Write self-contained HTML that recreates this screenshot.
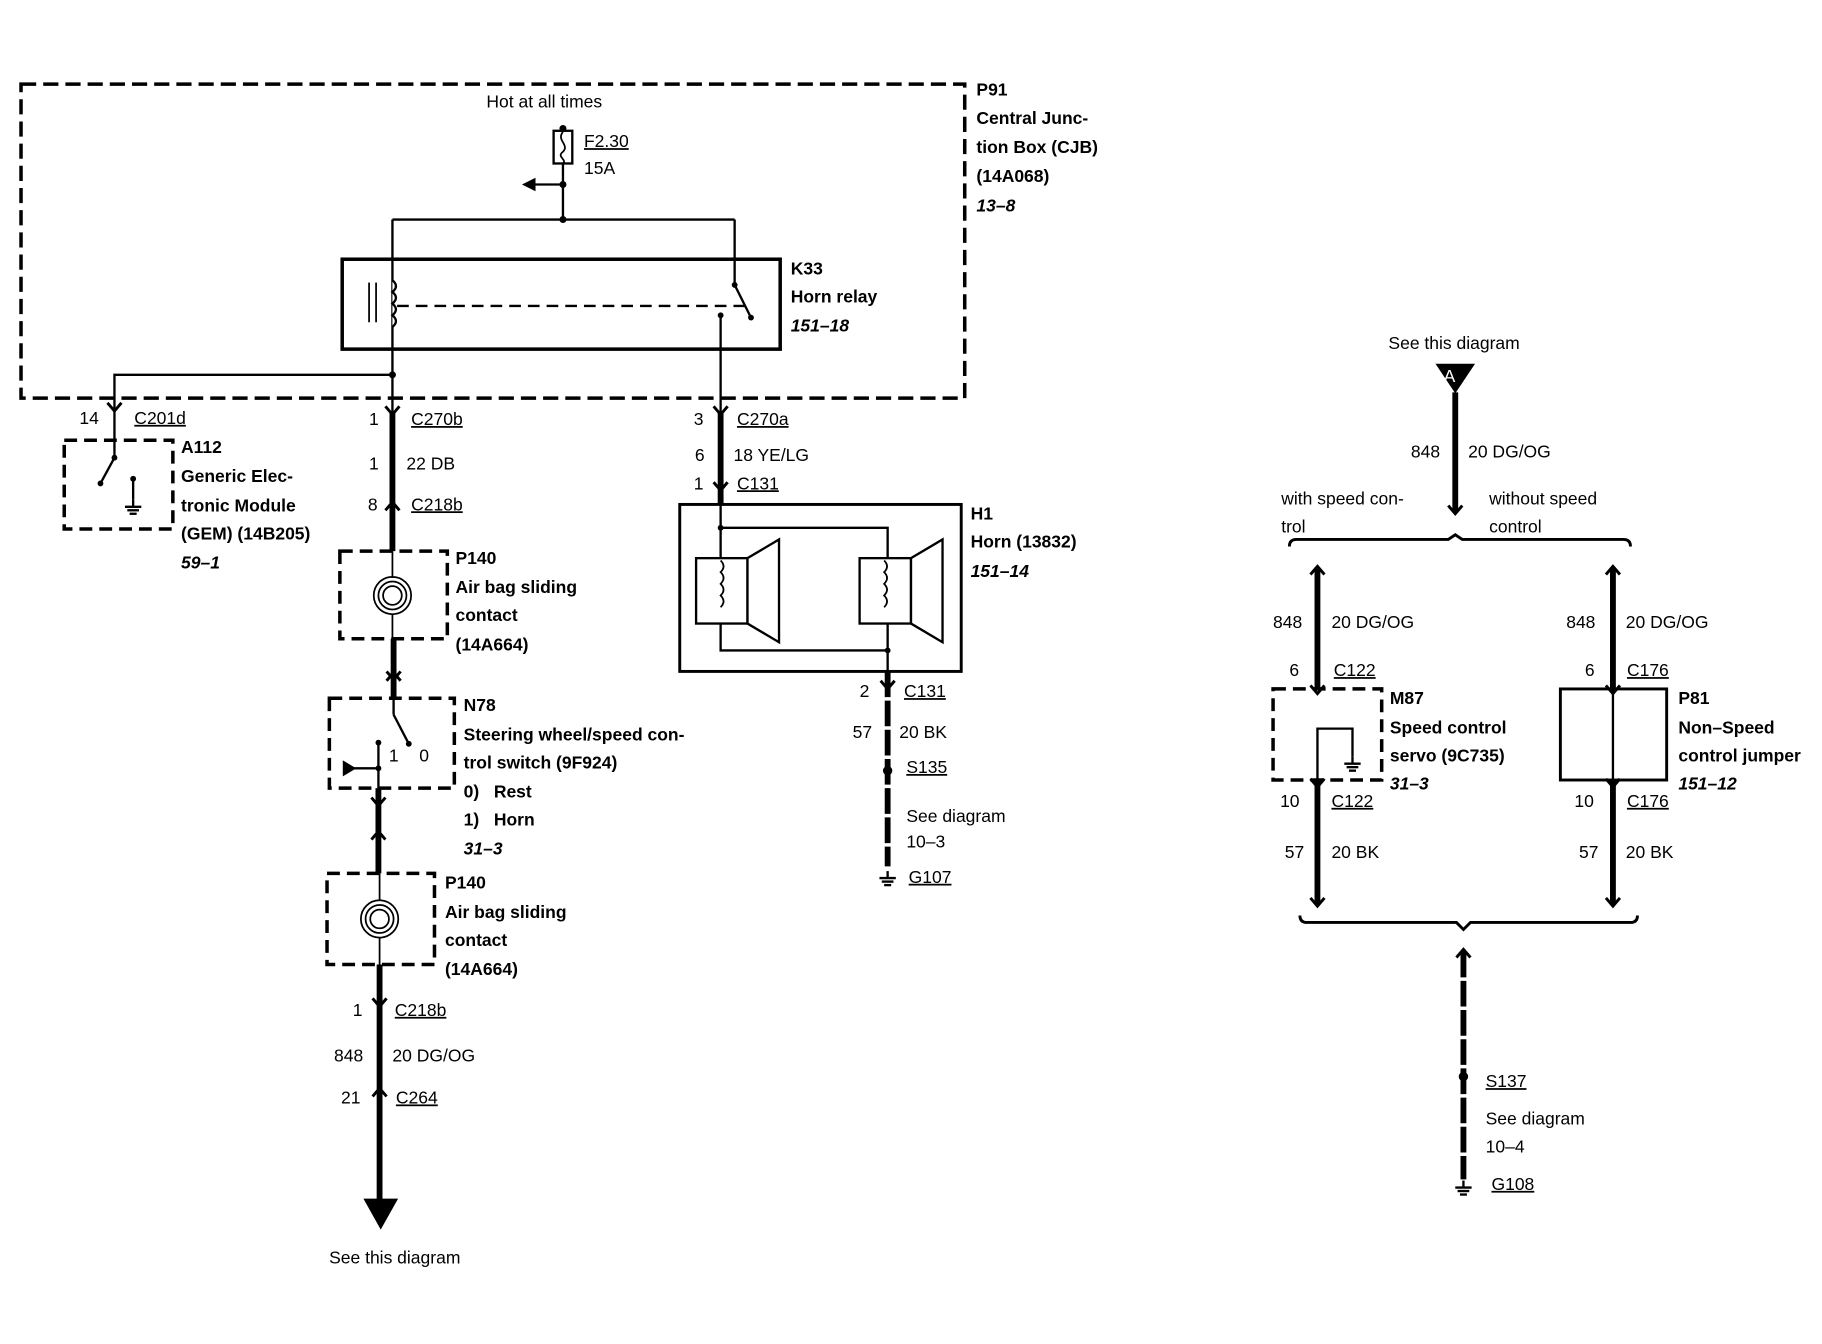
<!DOCTYPE html>
<html><head><meta charset="utf-8"><style>
html,body{margin:0;padding:0;background:#fff;}
svg{display:block;}
text{font-family:"Liberation Sans",sans-serif;font-size:15px;fill:#000;}
.b{font-weight:bold;}
.i{font-style:italic;font-weight:bold;}
.u{text-decoration:underline;}
</style></head><body>
<svg width="1822" height="1344" viewBox="0 0 1560 1151" preserveAspectRatio="none" xmlns="http://www.w3.org/2000/svg">
<defs>
<g id="cd"><path d="M-6,-7 L0,0 L6,-7" fill="none" stroke="#000" stroke-width="2.5"/></g>
<g id="cu"><path d="M-6,7 L0,0 L6,7" fill="none" stroke="#000" stroke-width="2.5"/></g>
<g id="gnd"><line x1="0" y1="-6" x2="0" y2="0" stroke="#000" stroke-width="2"/><line x1="-7" y1="0" x2="7" y2="0" stroke="#000" stroke-width="2"/><line x1="-5" y1="3" x2="5" y2="3" stroke="#000" stroke-width="2"/><line x1="-3" y1="6" x2="3" y2="6" stroke="#000" stroke-width="2"/></g>
</defs>
<g fill="none" stroke="#000">
<!-- CJB box -->
<rect x="18" y="72" width="808" height="269" stroke-width="3" stroke-dasharray="13,6"/>
<!-- fuse -->
<line x1="482" y1="108" x2="482" y2="188" stroke-width="2"/>
<rect x="474" y="112" width="16" height="28" stroke-width="2" fill="#fff"/>
<path d="M482,113 C476,120 488,124 482,130 C476,134 486,137 482,140" stroke-width="1.5"/>
<line x1="482" y1="158" x2="456" y2="158" stroke-width="2"/>
<path d="M448,158 L458,153 L458,163 Z" fill="#000"/>
<line x1="336" y1="188" x2="629" y2="188" stroke-width="2"/>
<line x1="336" y1="188" x2="336" y2="352" stroke-width="2"/>
<line x1="629" y1="188" x2="629" y2="244" stroke-width="2"/>
<line x1="629" y1="244" x2="643" y2="272" stroke-width="2"/>
<!-- relay -->
<rect x="293" y="222" width="375" height="77" stroke-width="3"/>
<path d="M336,240 q6,5 0,10 q6,5 0,10 q6,5 0,10 q6,5 0,10" stroke-width="2" fill="#fff"/>
<line x1="316" y1="242" x2="316" y2="276" stroke-width="1.5"/>
<line x1="322" y1="242" x2="322" y2="276" stroke-width="1.5"/>
<line x1="340" y1="262" x2="638" y2="262" stroke-width="2" stroke-dasharray="10,6"/>
<line x1="617" y1="270" x2="617" y2="352" stroke-width="2"/>
<polyline points="336,321 98,321 98,352" stroke-width="2"/>
<!-- A112 -->
<rect x="55" y="377" width="93" height="76" stroke-width="3" stroke-dasharray="11,6"/>
<line x1="98" y1="352" x2="98" y2="392" stroke-width="2"/>
<line x1="98" y1="392" x2="86" y2="414" stroke-width="2"/>
<line x1="114" y1="410" x2="114" y2="428" stroke-width="2"/>
<!-- left thick wire -->
<line x1="336" y1="352" x2="336" y2="472" stroke-width="5"/>
<rect x="291" y="472" width="92" height="75" stroke-width="3" stroke-dasharray="11,6"/>
<line x1="336" y1="472" x2="336" y2="495" stroke-width="1.5"/>
<circle cx="336" cy="510" r="16" stroke-width="1.5"/>
<circle cx="336" cy="510" r="12" stroke-width="1.5"/>
<circle cx="336" cy="510" r="8" stroke-width="1.5"/>
<line x1="336" y1="526" x2="336" y2="547" stroke-width="1.5"/>
<line x1="337" y1="547" x2="337" y2="598" stroke-width="5"/>
<!-- N78 -->
<rect x="282" y="598" width="107" height="77" stroke-width="3" stroke-dasharray="11,6"/>
<line x1="337" y1="598" x2="337" y2="612" stroke-width="2"/>
<line x1="337" y1="612" x2="350" y2="637" stroke-width="2"/>
<line x1="324" y1="636" x2="324" y2="675" stroke-width="2"/>
<line x1="302" y1="658" x2="324" y2="658" stroke-width="2"/>
<path d="M294,652 L304,658 L294,664 Z" fill="#000"/>
<line x1="324" y1="675" x2="324" y2="748" stroke-width="5"/>
<!-- P140 2 -->
<rect x="280" y="748" width="92" height="78" stroke-width="3" stroke-dasharray="11,6"/>
<line x1="325" y1="748" x2="325" y2="771" stroke-width="1.5"/>
<circle cx="325" cy="787" r="16" stroke-width="1.5"/>
<circle cx="325" cy="787" r="12" stroke-width="1.5"/>
<circle cx="325" cy="787" r="8" stroke-width="1.5"/>
<line x1="325" y1="803" x2="325" y2="826" stroke-width="1.5"/>
<line x1="325" y1="826" x2="325" y2="1030" stroke-width="5"/>
<path d="M312,1027 L340,1027 L326,1052 Z" fill="#000"/>
<!-- middle -->
<line x1="617" y1="352" x2="617" y2="432" stroke-width="5"/>
<rect x="582" y="432" width="241" height="143" stroke-width="2.5"/>
<polyline points="617,432 617,557 760,557" stroke-width="2"/>
<polyline points="617,452 760,452 760,575" stroke-width="2"/>
<rect x="596" y="478" width="44" height="56" stroke-width="2" fill="#fff"/>
<polygon points="640,478 667,462 667,550 640,534" stroke-width="2" fill="#fff"/>
<path d="M617,480 q5,5 0,10 q5,5 0,10 q5,5 0,10 q5,5 0,10" stroke-width="1.5"/>
<rect x="736" y="478" width="44" height="56" stroke-width="2" fill="#fff"/>
<polygon points="780,478 807,462 807,550 780,534" stroke-width="2" fill="#fff"/>
<path d="M757,480 q5,5 0,10 q5,5 0,10 q5,5 0,10 q5,5 0,10" stroke-width="1.5"/>
<line x1="760" y1="575" x2="760" y2="742" stroke-width="5" stroke-dasharray="22,3"/>
<!-- right -->
<path d="M1230,312 L1262,312 L1246,336 Z" fill="#000"/>
<line x1="1246" y1="336" x2="1246" y2="438" stroke-width="5"/>
<path d="M1104,468 q0,-6 6,-6 L1240,462 L1246,458 L1252,462 L1390,462 q6,0 6,6" stroke-width="2.5"/>
<line x1="1128" y1="487" x2="1128" y2="590" stroke-width="5"/>
<line x1="1381" y1="487" x2="1381" y2="590" stroke-width="5"/>
<rect x="1090" y="590" width="93" height="78" stroke-width="3" stroke-dasharray="11,6"/>
<polyline points="1128,668 1128,624 1158,624 1158,648" stroke-width="2"/>
<rect x="1336" y="590" width="91" height="78" stroke-width="2.5"/>
<line x1="1381" y1="590" x2="1381" y2="668" stroke-width="2"/>
<line x1="1128" y1="668" x2="1128" y2="775" stroke-width="5"/>
<line x1="1381" y1="668" x2="1381" y2="775" stroke-width="5"/>
<path d="M1113,784 q0,6 6,6 L1247,790 L1253,796 L1259,790 L1396,790 q6,0 6,-6" stroke-width="2.5"/>
<line x1="1253" y1="815" x2="1253" y2="1010" stroke-width="5" stroke-dasharray="22,3"/>
</g>
<g fill="#000">
<circle cx="482" cy="110" r="3"/><circle cx="482" cy="158" r="3"/><circle cx="482" cy="188" r="3"/>
<circle cx="629" cy="244" r="2.5"/><circle cx="643" cy="272" r="2.5"/><circle cx="617" cy="270" r="2.5"/>
<circle cx="336" cy="321" r="3"/>
<circle cx="98" cy="392" r="2.5"/><circle cx="86" cy="414" r="2.5"/><circle cx="114" cy="410" r="2.5"/>
<circle cx="350" cy="637" r="2.5"/><circle cx="324" cy="636" r="2.5"/><circle cx="324" cy="658" r="2.5"/>
<circle cx="617" cy="452" r="2.5"/><circle cx="760" cy="557" r="2.5"/>
<circle cx="760" cy="660" r="4"/><circle cx="1253" cy="922" r="4"/>
</g>
<use href="#gnd" x="114" y="434"/><use href="#gnd" x="1158" y="654"/>
<use href="#gnd" x="760" y="752"/><use href="#gnd" x="1253" y="1017"/>
<use href="#cd" x="98" y="352"/><use href="#cd" x="336" y="355"/><use href="#cd" x="617" y="355"/>
<use href="#cu" x="336" y="430"/><use href="#cd" x="337" y="582"/><use href="#cu" x="337" y="576"/>
<use href="#cd" x="324" y="690"/><use href="#cu" x="324" y="712"/>
<use href="#cd" x="325" y="862"/><use href="#cu" x="325" y="932"/>
<use href="#cd" x="617" y="420"/><use href="#cd" x="760" y="590"/>
<use href="#cd" x="1246" y="440"/><use href="#cu" x="1128" y="485"/><use href="#cu" x="1381" y="485"/>
<use href="#cd" x="1128" y="594"/><use href="#cd" x="1381" y="594"/>
<use href="#cd" x="1128" y="674"/><use href="#cd" x="1381" y="674"/>
<use href="#cd" x="1128" y="776"/><use href="#cd" x="1381" y="776"/><use href="#cu" x="1253" y="813"/>
<!-- text -->
<text x="466" y="92" text-anchor="middle">Hot at all times</text>
<text x="500" y="126" class="u">F2.30</text><text x="500" y="149">15A</text>
<text x="836" y="82" class="b">P91</text><text x="836" y="106" class="b">Central Junc-</text>
<text x="836" y="131" class="b">tion Box (CJB)</text><text x="836" y="156" class="b">(14A068)</text>
<text x="836" y="181" class="i">13–8</text>
<text x="677" y="235" class="b">K33</text><text x="677" y="259" class="b">Horn relay</text><text x="677" y="284" class="i">151–18</text>
<text x="68" y="363">14</text><text x="115" y="363" class="u">C201d</text>
<text x="155" y="388" class="b">A112</text><text x="155" y="413" class="b">Generic Elec-</text>
<text x="155" y="438" class="b">tronic Module</text><text x="155" y="462" class="b">(GEM) (14B205)</text>
<text x="155" y="487" class="i">59–1</text>
<text x="316" y="364">1</text><text x="352" y="364" class="u">C270b</text>
<text x="316" y="402">1</text><text x="348" y="402">22 DB</text>
<text x="315" y="437">8</text><text x="352" y="437" class="u">C218b</text>
<text x="390" y="483" class="b">P140</text><text x="390" y="508" class="b">Air bag sliding</text>
<text x="390" y="532" class="b">contact</text><text x="390" y="557" class="b">(14A664)</text>
<text x="397" y="609" class="b">N78</text><text x="397" y="634" class="b">Steering wheel/speed con-</text>
<text x="397" y="658" class="b">trol switch (9F924)</text><text x="397" y="683" class="b">0)&#160;&#160;&#160;Rest</text>
<text x="397" y="707" class="b">1)&#160;&#160;&#160;Horn</text><text x="397" y="732" class="i">31–3</text>
<text x="333" y="652" font-size="14">1</text><text x="359" y="652" font-size="14">0</text>
<text x="381" y="761" class="b">P140</text><text x="381" y="786" class="b">Air bag sliding</text>
<text x="381" y="810" class="b">contact</text><text x="381" y="835" class="b">(14A664)</text>
<text x="302" y="870">1</text><text x="338" y="870" class="u">C218b</text>
<text x="286" y="909">848</text><text x="336" y="909">20 DG/OG</text>
<text x="292" y="945">21</text><text x="339" y="945" class="u">C264</text>
<text x="338" y="1082" text-anchor="middle">See this diagram</text>
<text x="594" y="364">3</text><text x="631" y="364" class="u">C270a</text>
<text x="595" y="395">6</text><text x="628" y="395">18 YE/LG</text>
<text x="594" y="419">1</text><text x="631" y="419" class="u">C131</text>
<text x="831" y="445" class="b">H1</text><text x="831" y="469" class="b">Horn (13832)</text><text x="831" y="494" class="i">151–14</text>
<text x="736" y="597">2</text><text x="774" y="597" class="u">C131</text>
<text x="730" y="632">57</text><text x="770" y="632">20 BK</text>
<text x="776" y="662" class="u">S135</text>
<text x="776" y="704">See diagram</text><text x="776" y="726">10–3</text>
<text x="778" y="756" class="u">G107</text>
<text x="1245" y="299" text-anchor="middle">See this diagram</text>
<text x="1241" y="327" text-anchor="middle" font-size="11" fill="#fff" style="fill:#fff">A</text>
<text x="1208" y="392">848</text><text x="1257" y="392">20 DG/OG</text>
<text x="1097" y="432">with speed con-</text><text x="1097" y="456">trol</text>
<text x="1275" y="432">without speed</text><text x="1275" y="456">control</text>
<text x="1090" y="538">848</text><text x="1140" y="538">20 DG/OG</text>
<text x="1104" y="579">6</text><text x="1142" y="579" class="u">C122</text>
<text x="1190" y="603" class="b">M87</text><text x="1190" y="628" class="b">Speed control</text>
<text x="1190" y="652" class="b">servo (9C735)</text><text x="1190" y="676" class="i">31–3</text>
<text x="1096" y="691">10</text><text x="1140" y="691" class="u">C122</text>
<text x="1100" y="735">57</text><text x="1140" y="735">20 BK</text>
<text x="1341" y="538">848</text><text x="1392" y="538">20 DG/OG</text>
<text x="1357" y="579">6</text><text x="1393" y="579" class="u">C176</text>
<text x="1437" y="603" class="b">P81</text><text x="1437" y="628" class="b">Non–Speed</text>
<text x="1437" y="652" class="b">control jumper</text><text x="1437" y="676" class="i">151–12</text>
<text x="1348" y="691">10</text><text x="1393" y="691" class="u">C176</text>
<text x="1352" y="735">57</text><text x="1392" y="735">20 BK</text>
<text x="1272" y="931" class="u">S137</text>
<text x="1272" y="963">See diagram</text><text x="1272" y="987">10–4</text>
<text x="1277" y="1019" class="u">G108</text>
</svg>
</body></html>
